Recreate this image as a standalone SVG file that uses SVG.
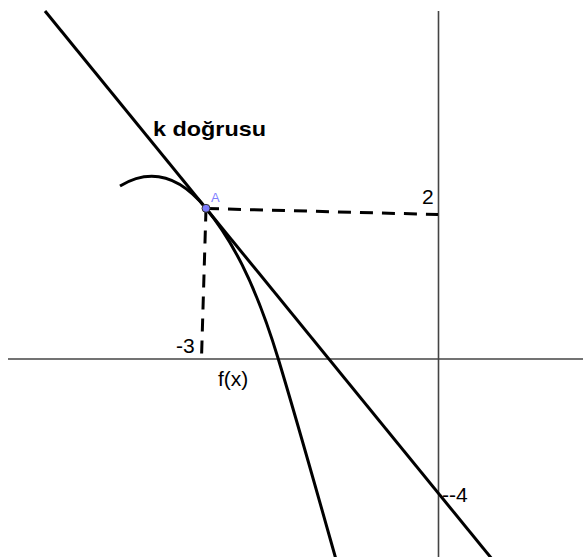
<svg xmlns="http://www.w3.org/2000/svg" width="583" height="557" viewBox="0 0 583 557">
<style>
.axis{stroke:#444;stroke-width:1.6;fill:none}
.thick{stroke:#000;stroke-width:3;fill:none;stroke-linecap:butt}
.dash{stroke:#000;stroke-width:3;fill:none;stroke-dasharray:13 9}
.lbl{font-family:"Liberation Sans",Arial,sans-serif;font-size:21px;fill:#000}
</style>
<rect width="583" height="557" fill="#fff"/>
<g id="axes">
<line class="axis" x1="8" y1="359" x2="583" y2="359"/>
<line class="axis" x1="438.5" y1="11" x2="438.5" y2="557"/>
</g>
<g id="connectors">
<line id="k" class="thick" x1="45" y1="11" x2="492" y2="559"/>
<path id="f" class="thick" d="M120,186 C148.7,168.8 177.3,173.1 206,208.3 C230,237.7 254,279 278.3,359 C297.3,421.7 316,488.6 337,563"/>
<line class="dash" x1="206" y1="208.5" x2="438" y2="214.5"/>
<line class="dash" x1="206" y1="208.5" x2="201.5" y2="358"/>
</g>
<g id="pointA">
<circle cx="206" cy="208.3" r="4" fill="#7b7bff" stroke="#333" stroke-width="1"/>
<text x="211" y="202" font-family="Liberation Sans,Arial,sans-serif" font-size="13" fill="#7f7fff">A</text>
</g>
<g id="labels">
<text class="lbl" x="153" y="136" font-size="22" font-weight="bold" textLength="113" lengthAdjust="spacingAndGlyphs">k doğrusu</text>
<text class="lbl" x="422" y="204">2</text>
<text class="lbl" x="176" y="353">-3</text>
<text class="lbl" x="218" y="386">f(x)</text>
<text class="lbl" x="442" y="502">--4</text>
</g>
</svg>
